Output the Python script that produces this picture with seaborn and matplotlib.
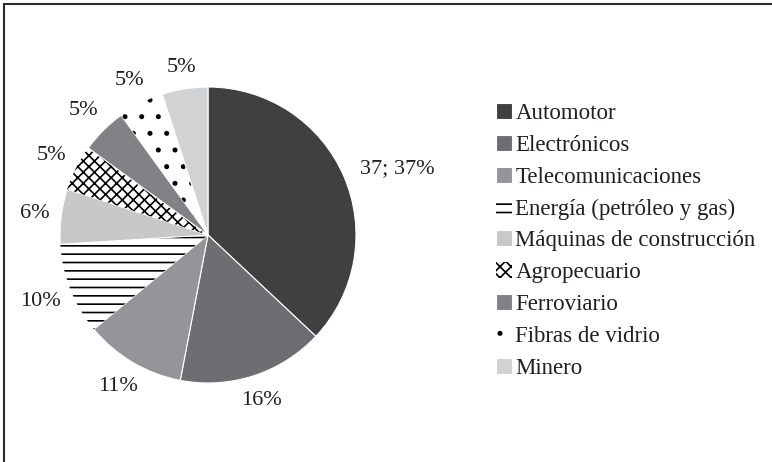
import numpy as np
import matplotlib
matplotlib.use("Agg")
import matplotlib.pyplot as plt
from matplotlib.lines import Line2D
import seaborn as sns

# data
sectors = ["Automotor", "Electrónicos", "Telecomunicaciones",
           "Energía (petróleo y gas)", "Máquinas de construcción",
           "Agropecuario", "Ferroviario", "Fibras de vidrio", "Minero"]
shares = [37, 16, 11, 10, 6, 5, 5, 5, 5]
pct_labels = ["37; 37%", "16%", "11%", "10%", "6%", "5%", "5%", "5%", "5%"]

fills = ["#404041", "#6d6e71", "#939598", "white", "#c7c8ca",
         "white", "#808285", "white", "#d1d2d4"]
hatches = [None, None, None, "--", None, "///\\\\\\", None, ".", None]


def main():
    sns.set_theme(style="white")
    plt.rcParams["font.family"] = ["Liberation Serif", "DejaVu Serif"]
    plt.rcParams["hatch.linewidth"] = 1.2

    fig = plt.figure(figsize=(7.72, 4.62), dpi=100)
    ax = fig.add_axes([59 / 772, 79 / 462, 298 / 772, 296 / 462])

    wedges, _ = ax.pie(shares, colors=fills, startangle=90, counterclock=False,
                       radius=1.0, wedgeprops=dict(edgecolor="white", linewidth=0.8))
    for w, h in zip(wedges, hatches):
        if h:
            w.set_hatch(h)
            w.set_edgecolor("black")
            w.set_linewidth(0)

    ax.set_xlim(-1, 1)
    ax.set_ylim(-1, 1)
    ax.set_aspect("equal")
    ax.axis("off")

    # outside labels: box sits just outside the rim
    renderer = fig.canvas.get_renderer()
    px = 149.0  # pixels per unit radius
    for i, (w, lab) in enumerate(zip(wedges, pct_labels)):
        ang = np.deg2rad((w.theta1 + w.theta2) / 2)
        if i == 0:
            r = 1.12
            ax.text(r * np.cos(ang), r * np.sin(ang), lab, ha="left", va="center",
                    fontsize=16, color="#231f20")
            continue
        t = ax.text(0, 0, lab, ha="center", va="center", fontsize=16, color="#231f20")
        bb = t.get_window_extent(renderer)
        ext = (bb.width / 2 * abs(np.cos(ang)) + bb.height / 2 * abs(np.sin(ang))) / px
        r = 1.07 + ext
        t.set_position((r * np.cos(ang), r * np.sin(ang)))

    fig.legend(wedges, sectors, loc="upper left",
               bbox_to_anchor=(496 / 772, (462 - 103) / 462),
               frameon=False, fontsize=16.5, handlelength=0.7, handleheight=0.7,
               handletextpad=0.15, labelspacing=0.47, borderpad=0, borderaxespad=0,
               labelcolor="#231f20")

    # page frame (top and left edges)
    fig.add_artist(Line2D([4 / 772, 1], [1 - 4 / 462, 1 - 4 / 462],
                          transform=fig.transFigure, color="#2b2b2b", lw=1.5))
    fig.add_artist(Line2D([4 / 772, 4 / 772], [0, 1 - 4 / 462],
                          transform=fig.transFigure, color="#2b2b2b", lw=1.5))

    fig.savefig("out.png", dpi=100)


if __name__ == "__main__":
    main()
